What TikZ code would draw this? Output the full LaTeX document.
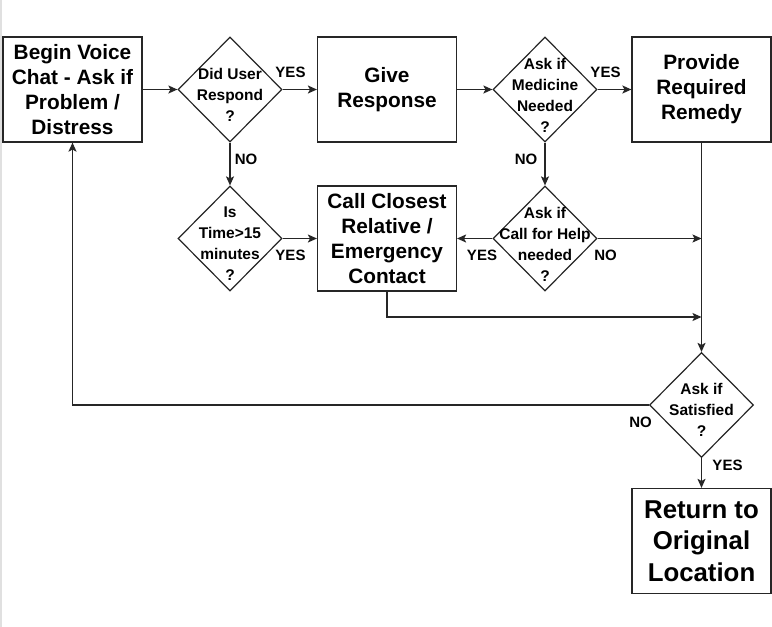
\documentclass[tikz,border=0pt]{standalone}
\usepackage{fontspec}
\setmainfont{Liberation Sans}
\usetikzlibrary{shapes.geometric,arrows.meta}
\begin{document}
\begin{tikzpicture}[x=1pt,y=-1pt,
  box/.style={draw=black!85, line width=1.2pt, minimum width=139pt, minimum height=105pt, inner sep=0pt, align=center, font=\bfseries\fontsize{20.8}{25}\selectfont},
  dia/.style={draw=black!85, line width=1.2pt, diamond, minimum width=104pt, minimum height=105pt, inner sep=0pt},
  dtxt/.style={align=center, inner sep=0pt, font=\bfseries\fontsize{15.5}{21}\selectfont},
  lbl/.style={inner sep=0pt, font=\bfseries\fontsize{15}{17}\selectfont},
  conn/.style={draw=black!85, line width=1.2pt, -{Stealth[length=9pt,width=8pt,inset=2pt]}}]
\useasboundingbox (0,0) rectangle (772,627);
\fill[white] (0,0) rectangle (772,627);
\draw[black!12, line width=1.5pt] (1,0) -- (1,627);
% nodes
\node[box] (begin) at (72.5,89.5) {Begin Voice\\Chat - Ask if\\Problem /\\Distress};
\node[dia] (d1) at (230,89.5) {};
\node[dtxt] (d1t) at (230,95) {Did User\\Respond\\?};
\node[box] (give) at (387,89.5) {Give\\Response};
\node[dia] (d2) at (545,89.5) {};
\node[dtxt] (d2t) at (545,95) {Ask if\\Medicine\\Needed\\?};
\node[box] (rem) at (701.5,89.5) {Provide\\Required\\Remedy};
\node[dia] (d3) at (230,238.5) {};
\node[dtxt] (d3t) at (230,244) {Is\\Time>15\\minutes\\?};
\node[box] (call) at (387,238.5) {Call Closest\\Relative /\\Emergency\\Contact};
\node[dia] (d4) at (545,238.5) {};
\node[dtxt] (d4t) at (545,244) {Ask if\\Call for Help\\needed\\?};
\coordinate (j1) at (701.5,238.5);
\coordinate (j2) at (701.5,317);
\node[dia] (d5) at (701.5,405) {};
\node[dtxt] (d5t) at (701.5,410) {Ask if\\Satisfied\\?};
\node[box, font=\bfseries\fontsize{25.8}{31.5}\selectfont] (ret) at (701.5,541) {Return to\\Original\\Location};
% connectors
\draw[conn] (begin) -- (d1);
\draw[conn] (d1) -- (give);
\draw[conn] (give) -- (d2);
\draw[conn] (d2) -- (rem);
\draw[conn] (d1) -- (d3);
\draw[conn] (d2) -- (d4);
\draw[conn] (d3) -- (call);
\draw[conn] (d4) -- (call);
\draw[conn] (d4) -- (j1);
\draw[draw=black!85, line width=1.2pt] (rem.south) -- (j1);
\draw[conn] (j1) -- (d5);
\draw[conn] (call.south) |- (j2);
\draw[conn] (d5) -- (ret);
\draw[conn] (d5.west) -| (begin.south);
% labels
\node[lbl] (l1) at (290.5,72.5) {YES};
\node[lbl] (l2) at (246,159) {NO};
\node[lbl] (l3) at (605.5,72.5) {YES};
\node[lbl] (l4) at (526,159) {NO};
\node[lbl] (l5) at (290.5,255.5) {YES};
\node[lbl] (l6) at (482,255.5) {YES};
\node[lbl] (l7) at (605.5,255.5) {NO};
\node[lbl] (l8) at (640.5,422.5) {NO};
\node[lbl] (l9) at (727.5,465) {YES};
\end{tikzpicture}
\end{document}
